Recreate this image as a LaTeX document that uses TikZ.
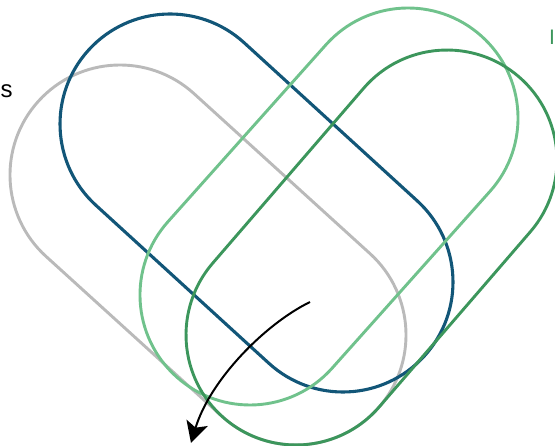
\documentclass[tikz,border=0pt]{standalone}
\usepackage{fontspec}
\setmainfont{Liberation Sans}
\usetikzlibrary{shapes.misc,arrows.meta}
\definecolor{cgray}{RGB}{186,186,186}
\definecolor{cblue}{RGB}{18,86,120}
\definecolor{clgreen}{RGB}{112,194,140}
\definecolor{cdgreen}{RGB}{60,150,92}
\tikzset{
  loop/.style={draw, rounded rectangle, minimum height=220pt, inner sep=0pt, line width=2.9pt},
  turnarrow/.style={draw=black, line width=2pt, -{Stealth[length=21pt,width=22pt,inset=5pt]}}
}
\begin{document}
\begin{tikzpicture}[x=1pt,y=-1pt]
\useasboundingbox (0,0) rectangle (555,446);
\node[loop, draw=cgray, minimum width=457.9pt, rotate=-42.27] (gray) at (208,255) {};
\node[loop, draw=cblue, line width=3.1pt, minimum width=454.3pt, rotate=-42.41] (blue) at (256.5,203) {};
\node[loop, draw=clgreen, minimum width=457.3pt, rotate=48.24] (lgreen) at (329,206.5) {};
\node[loop, draw=cdgreen, minimum width=451.1pt, rotate=49.21] (dgreen) at (371.5,247.5) {};
\coordinate (astart) at (310,302);
\coordinate (aend) at (191,443);
\draw[turnarrow] (astart) .. controls (265,324) and (210,380) .. (aend);
\node[anchor=base west, inner sep=0pt, font=\fontsize{24}{28}\selectfont] (lefttxt) at (0.5,98) {s};
\node[anchor=base west, inner sep=0pt, text=cdgreen, font=\fontsize{21}{25}\selectfont] (righttxt) at (549,45) {I};
\end{tikzpicture}
\end{document}
